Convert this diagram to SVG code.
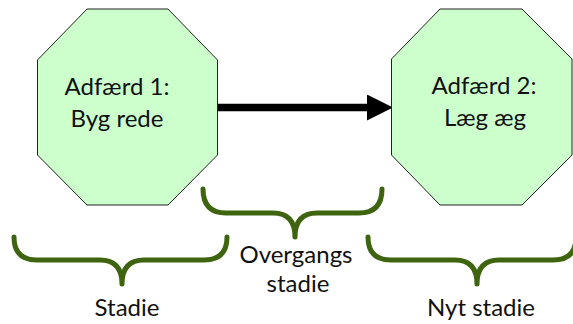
<svg xmlns="http://www.w3.org/2000/svg" width="573" height="324" viewBox="0 0 573 324">
  <defs>
    <style>
      .node { fill: #ccffcc; stroke: #222; stroke-width: 1; }
      .lbl { font-family: Lato, "Open Sans", "Liberation Sans", sans-serif; font-size: 24px; fill: #111; text-anchor: middle; }
      .brace { fill: none; stroke: #3f6410; stroke-width: 5; stroke-linecap: round; stroke-linejoin: round; }
      .edge { stroke: #000; stroke-width: 7.5; fill: none; }
    </style>
    <marker id="head" viewBox="0 0 26 26" refX="0" refY="13" markerWidth="26" markerHeight="26" markerUnits="userSpaceOnUse" orient="auto">
      <path d="M0,0 L26,13 L0,26 Z" fill="#000"/>
    </marker>
  </defs>
  <rect width="573" height="324" fill="#fff"/>

  <!-- connectors -->
  <g id="connectors">
    <line class="edge" x1="217" y1="107.5" x2="367" y2="107.5" marker-end="url(#head)"/>
  </g>

  <!-- behaviour nodes -->
  <g id="node-adfaerd1">
    <polygon class="node" points="87,9 168,9 217.5,60 217.5,155 168,205 87,205 37.5,155 37.5,60"/>
    <text class="lbl" x="117" y="95">Adfærd 1:</text>
    <text class="lbl" x="117" y="127">Byg rede</text>
  </g>
  <g id="node-adfaerd2">
    <polygon class="node" points="440,9 522,9 572,59 572,155 522,205 440,205 391.5,155 391.5,59"/>
    <text class="lbl" x="484" y="94">Adfærd 2:</text>
    <text class="lbl" x="485" y="126">Læg æg</text>
  </g>

  <!-- stage braces -->
  <g id="brace-stadie">
    <path class="brace" d="M14,237 Q14,260 37,260 L100,260 Q122,260 122,284 Q122,260 144,260 L204,260 Q227,260 227,237"/>
    <text class="lbl" x="127" y="316">Stadie</text>
  </g>
  <g id="brace-overgang">
    <path class="brace" d="M203,189 Q203,213 226,213 L273,213 Q295,213 295,237 Q295,213 317,213 L359,213 Q382,213 382,189"/>
    <text class="lbl" x="296" y="263">Overgangs</text>
    <text class="lbl" x="298" y="292">stadie</text>
  </g>
  <g id="brace-nyt">
    <path class="brace" d="M368,237 Q368,260 391,260 L455,260 Q477,260 477,284 Q477,260 499,260 L553,260 Q576,260 576,237"/>
    <text class="lbl" x="481" y="316">Nyt stadie</text>
  </g>
</svg>
